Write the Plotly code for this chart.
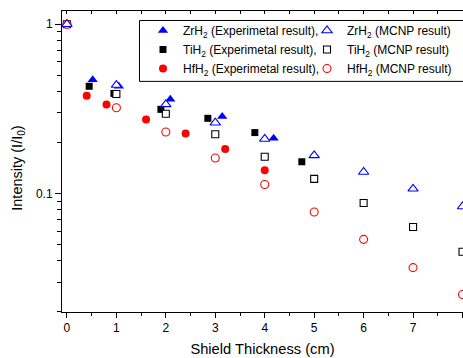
import plotly.graph_objects as go

# ---- data ----
zr_exp_x = [0, 0.52, 1.05, 2.09, 3.14, 4.18]
zr_exp_y = [1.0, 0.47, 0.43, 0.36, 0.285, 0.212]
ti_exp_x = [0, 0.45, 0.95, 1.9, 2.85, 3.8, 4.75]
ti_exp_y = [1.0, 0.43, 0.39, 0.314, 0.278, 0.229, 0.154]
hf_exp_x = [0, 0.4, 0.8, 1.6, 2.4, 3.2, 4.0]
hf_exp_y = [1.0, 0.378, 0.336, 0.274, 0.226, 0.183, 0.137]

mcnp_x = [0, 1, 2, 3, 4, 5, 6, 7, 8]
zr_mcnp_y = [1.0, 0.437, 0.336, 0.262, 0.210, 0.168, 0.134, 0.1066, 0.0838]
ti_mcnp_y = [1.0, 0.387, 0.296, 0.224, 0.165, 0.122, 0.0878, 0.0634, 0.0453]
hf_mcnp_y = [1.0, 0.321, 0.231, 0.162, 0.113, 0.0777, 0.0536, 0.0365, 0.0253]

x_ticks = [0, 1, 2, 3, 4, 5, 6, 7, 8]
y_ticks = [0.1, 1]
y_ticktext = ["0.1", "1"]
y_minor = [0.02, 0.03, 0.04, 0.05, 0.06, 0.07, 0.08, 0.09,
           0.2, 0.3, 0.4, 0.5, 0.6, 0.7, 0.8, 0.9]

BLUE, BLACK, RED = "#0000ff", "#000000", "#ff0000"
FONT = "Liberation Sans, Arial, sans-serif"

fig = go.Figure()

def filled(x, y, name, sym, size, color, rank):
    fig.add_trace(go.Scatter(
        x=x, y=y, mode="markers", name=name, legend="legend", legendrank=rank,
        marker=dict(symbol=sym, size=size, color=color, line=dict(width=0)),
    ))

def hollow(x, y, name, sym, size, color, rank):
    fig.add_trace(go.Scatter(
        x=x, y=y, mode="markers", name=name, legend="legend2", legendrank=rank,
        marker=dict(symbol=sym, size=size, color="white", line=dict(width=1.1, color=color)),
    ))

filled(zr_exp_x, zr_exp_y, "ZrH<sub>2</sub> (Experimetal result),", "triangle-up", 9, BLUE, 1)
filled(ti_exp_x, ti_exp_y, "TiH<sub>2</sub> (Experimetal result),", "square", 7, BLACK, 2)
filled(hf_exp_x, hf_exp_y, "HfH<sub>2</sub> (Experimetal result),", "circle", 8, RED, 3)
hollow(mcnp_x, ti_mcnp_y, "TiH<sub>2</sub> (MCNP result)", "square", 7, BLACK, 2)
hollow(mcnp_x, hf_mcnp_y, "HfH<sub>2</sub> (MCNP result)", "circle", 8, RED, 3)
hollow(mcnp_x, zr_mcnp_y, "ZrH<sub>2</sub> (MCNP result)", "triangle-up", 9, BLUE, 1)

# top axis (inward ticks)
fig.add_trace(go.Scatter(x=[None], y=[None], xaxis="x2", showlegend=False, hoverinfo="skip"))

W, H = 463, 358
L, R, T, B = 62, 0, 11, 45.5
pw, ph = W - L - R, H - T - B

def px_x(p):
    return (p - L) / pw

def px_y(p):
    return 1 - (p - T) / ph

fig.add_shape(type="rect", xref="paper", yref="paper",
              x0=px_x(139.5), x1=1.02, y0=px_y(81.5), y1=px_y(20.5),
              line=dict(color="black", width=1), fillcolor="white", layer="below")

fig.add_annotation(text="Intensity (I/I<sub>0</sub>)", xref="paper", yref="paper",
                   x=px_x(18), y=px_y(169), xanchor="center", yanchor="middle",
                   textangle=-90, showarrow=False, font=dict(size=14.5))

fig.update_layout(
    width=W, height=H,
    margin=dict(l=L, r=R, t=T, b=B, autoexpand=False),
    paper_bgcolor="white", plot_bgcolor="rgba(0,0,0,0)",
    font=dict(family=FONT, size=12, color="black"),
    xaxis=dict(
        range=[-0.1, 8.01], tickvals=x_ticks, ticks="outside", ticklen=5, tickwidth=1,
        tickcolor="black", showline=True, linecolor="black", linewidth=1,
        showgrid=False, zeroline=False, mirror=False, automargin=False,
        tickfont=dict(size=12),
        minor=dict(dtick=0.5, tick0=0, ticks="outside", ticklen=3, tickcolor="black", showgrid=False),
        title=dict(text="Shield Thickness (cm)", font=dict(size=14.7), standoff=9),
    ),
    xaxis2=dict(
        overlaying="x", side="top", range=[-0.1, 8.01], dtick=0.5, tick0=0,
        ticks="inside", ticklen=3, tickcolor="black", showticklabels=False,
        showline=True, linecolor="black", linewidth=1, showgrid=False, zeroline=False,
        automargin=False,
    ),
    yaxis=dict(
        type="log", range=[-1.70, 0.078], tickvals=y_ticks, ticktext=y_ticktext,
        ticks="outside", ticklen=6, tickcolor="black", showline=True, linecolor="black",
        linewidth=1, showgrid=False, zeroline=False, mirror=False, automargin=False,
        tickfont=dict(size=12),
        minor=dict(tickvals=y_minor, ticks="outside", ticklen=4, tickcolor="black", showgrid=False),
    ),
    legend=dict(
        x=px_x(143), y=px_y(16), xanchor="left", yanchor="top",
        bgcolor="rgba(0,0,0,0)", borderwidth=0, font=dict(size=12),
        tracegroupgap=0, itemsizing="trace",
    ),
    legend2=dict(
        x=px_x(307), y=px_y(16), xanchor="left", yanchor="top",
        bgcolor="rgba(0,0,0,0)", borderwidth=0, font=dict(size=12),
        tracegroupgap=0, itemsizing="trace",
    ),
)

fig.write_html("out.html", config={"displayModeBar": False},
               post_script="document.body.style.margin='0';document.body.style.padding='0';")
